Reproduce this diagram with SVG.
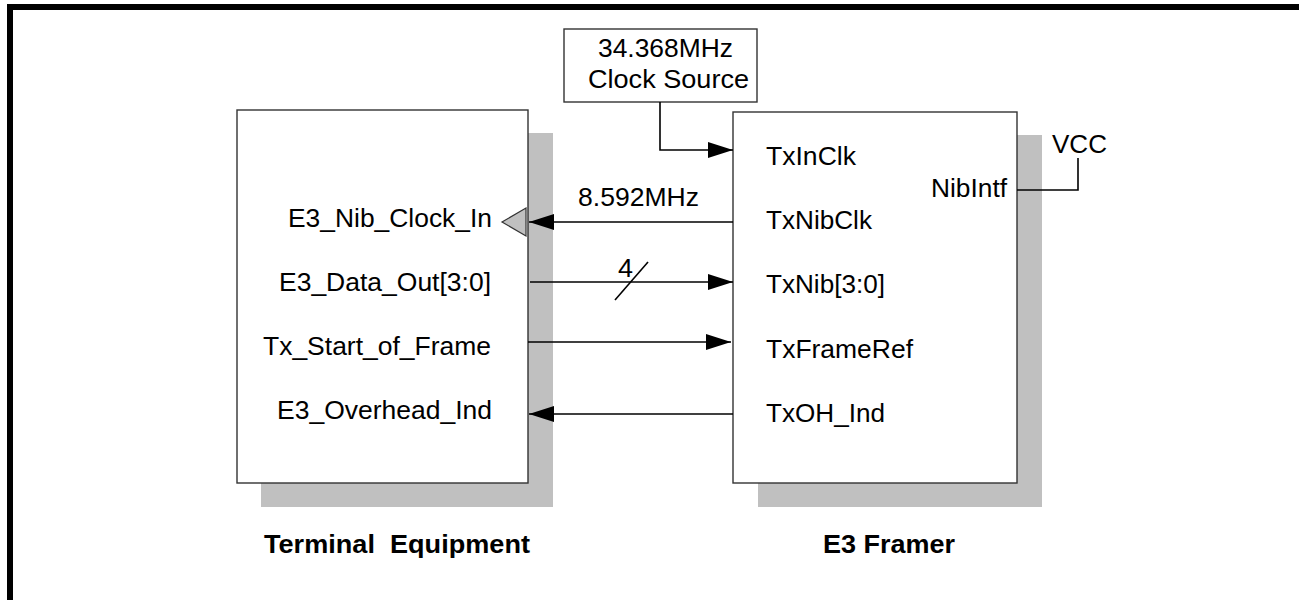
<svg xmlns="http://www.w3.org/2000/svg" width="1299" height="600" viewBox="0 0 1299 600" xml:space="preserve">
<style>
text{font-family:"Liberation Sans",Arial,sans-serif;font-size:25px;fill:#000;white-space:pre}
.b{font-weight:bold;font-size:26px}
.box{fill:#fff;stroke:#333;stroke-width:1.4}
.sh{fill:#c0c0c0}
.ln{stroke:#000;stroke-width:1.6;fill:none}
</style>
<defs>
<marker id="ah" markerUnits="userSpaceOnUse" markerWidth="26" markerHeight="18" refX="25" refY="8" orient="auto">
<path d="M0,0 L25,8 L0,16 Z" fill="#000"/>
</marker>
</defs>
<rect x="0" y="0" width="1299" height="600" fill="#fff"/>
<g id="frame">
<rect x="7" y="4" width="1292" height="6" fill="#000"/>
<rect x="7" y="4" width="6" height="596" fill="#000"/>
</g>
<g id="terminal">
<rect class="sh" x="261" y="133" width="292" height="374"/>
<rect class="box" x="237" y="110" width="291" height="373"/>
<text x="288" y="227" textLength="204" lengthAdjust="spacingAndGlyphs">E3_Nib_Clock_In</text>
<text x="279" y="291" textLength="212" lengthAdjust="spacingAndGlyphs">E3_Data_Out[3:0]</text>
<text x="263" y="355" textLength="228" lengthAdjust="spacingAndGlyphs">Tx_Start_of_Frame</text>
<text x="277" y="419" textLength="215" lengthAdjust="spacingAndGlyphs">E3_Overhead_Ind</text>
<polygon points="526,208 526,236 502,222" fill="#c0c0c0" stroke="#333" stroke-width="1.2"/>
<text class="b" x="264" y="553" textLength="266" lengthAdjust="spacingAndGlyphs">Terminal  Equipment</text>
</g>
<g id="framer">
<rect class="sh" x="758" y="135" width="284" height="372"/>
<rect class="box" x="733" y="112" width="284" height="371"/>
<text x="766" y="165" textLength="90" lengthAdjust="spacingAndGlyphs">TxInClk</text>
<text x="766" y="229" textLength="106" lengthAdjust="spacingAndGlyphs">TxNibClk</text>
<text x="766" y="293" textLength="119" lengthAdjust="spacingAndGlyphs">TxNib[3:0]</text>
<text x="766" y="358" textLength="147" lengthAdjust="spacingAndGlyphs">TxFrameRef</text>
<text x="766" y="422" textLength="119" lengthAdjust="spacingAndGlyphs">TxOH_Ind</text>
<text x="931" y="197" textLength="76" lengthAdjust="spacingAndGlyphs">NibIntf</text>
<text class="b" x="823" y="553" textLength="132" lengthAdjust="spacingAndGlyphs">E3 Framer</text>
</g>
<g id="clock">
<rect class="box" x="564" y="29" width="193" height="73"/>
<text x="598" y="57" textLength="135" lengthAdjust="spacingAndGlyphs">34.368MHz</text>
<text x="588" y="88" textLength="161" lengthAdjust="spacingAndGlyphs">Clock Source</text>
</g>
<g id="vcc">
<text x="1052" y="153" textLength="55" lengthAdjust="spacingAndGlyphs">VCC</text>
</g>
<g id="connectors">
<polyline class="ln" points="660,102 660,150 733,150" marker-end="url(#ah)"/>
<line class="ln" x1="733" y1="222" x2="529" y2="222" marker-end="url(#ah)"/>
<text x="578" y="206" textLength="121" lengthAdjust="spacingAndGlyphs">8.592MHz</text>
<line class="ln" x1="530" y1="282" x2="733" y2="282" marker-end="url(#ah)"/>
<line class="ln" x1="615" y1="300" x2="648" y2="262"/>
<text x="618" y="277" textLength="15" lengthAdjust="spacingAndGlyphs">4</text>
<line class="ln" x1="528" y1="342" x2="731" y2="342" marker-end="url(#ah)"/>
<line class="ln" x1="733" y1="414" x2="529" y2="414" marker-end="url(#ah)"/>
<polyline class="ln" points="1017,190 1078,190 1078,158"/>
</g>
</svg>
